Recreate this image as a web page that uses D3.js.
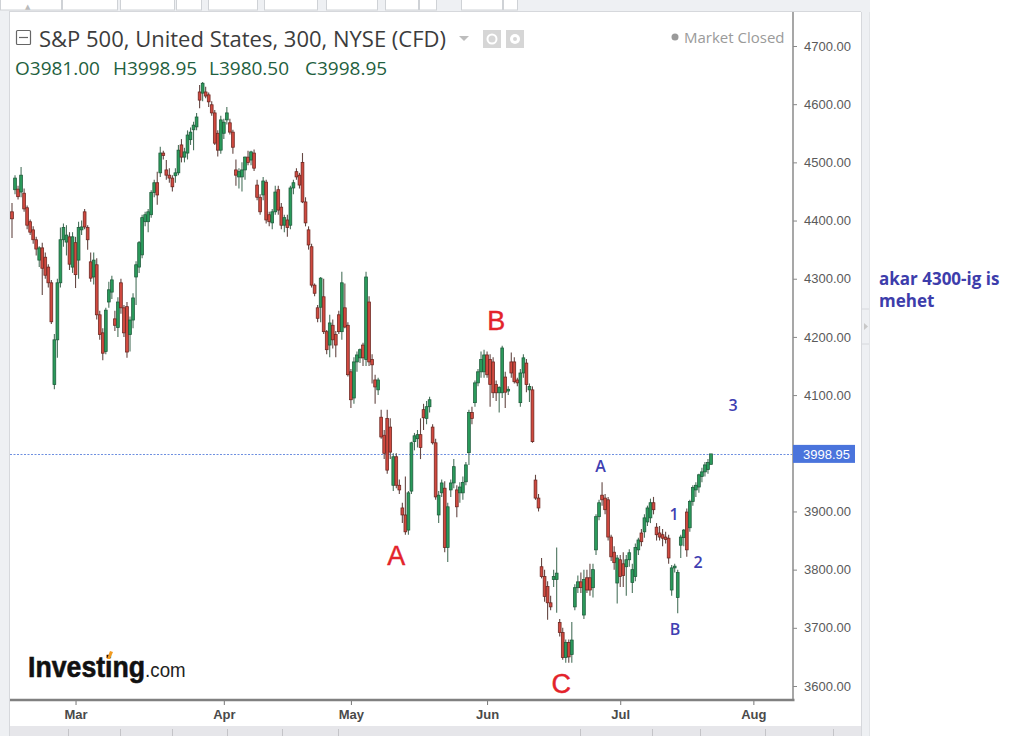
<!DOCTYPE html>
<html>
<head>
<meta charset="utf-8">
<script src="https://cdn.jsdelivr.net/npm/d3@7"></script>
<style>
  body { margin: 0; background: #fff; }
  svg { display: block; }
</style>
</head>
<body>
<div id="chart"></div>
<script>
// S&P 500 CFD, 300-minute candles, Feb - Jul
const opens = [4415,4453,4454,4449,4447,4422,4398,4384,4367,4332,4353,4337,4320,4293,4118,4195,4293,4367,4363,4372,4320,4362,4332,4384,4415,4388,4329,4303,4324,4238,4207,4175,4260,4277,4231,4216,4293,4250,4252,4204,4229,4303,4320,4341,4398,4398,4410,4448,4465,4482,4516,4487,4478,4473,4477,4482,4530,4509,4516,4539,4556,4561,4621,4619,4621,4616,4599,4585,4550,4521,4550,4573,4568,4552,4487,4475,4475,4487,4509,4504,4516,4461,4440,4444,4466,4410,4396,4415,4453,4423,4392,4401,4392,4456,4484,4478,4500,4432,4384,4355,4289,4250,4251,4269,4209,4186,4220,4204,4238,4209,4250,4220,4140,4095,4157,4164,4186,4161,4260,4161,4126,4109,4062,4031,4060,4045,3945,3994,3945,3906,3894,3868,3935,4020,4025,4032,4075,4060,4080,4045,4018,3894,3932,3940,3838,3937,3949,3937,3932,3932,3951,4001,4070,4087,4121,4140,4140,4169,4161,4157,4118,4104,4104,4131,4107,4157,4157,4126,4087,4138,4155,4109,4109,3954,3923,3805,3788,3771,3743,3783,3783,3709,3692,3649,3675,3654,3736,3769,3779,3722,3786,3786,3769,3834,3891,3928,3923,3920,3856,3830,3777,3817,3810,3805,3817,3778,3788,3834,3863,3865,3882,3889,3915,3873,3863,3860,3856,3854,3765,3803,3752,3842,3855,3899,3872,3917,3937,3942,3960,3968,3972,3981];
const highs = [4430,4478,4460,4492,4455,4426,4402,4390,4372,4356,4362,4345,4325,4298,4205,4300,4388,4395,4392,4380,4380,4372,4398,4400,4420,4392,4345,4345,4335,4245,4215,4250,4295,4305,4245,4268,4300,4255,4260,4235,4275,4330,4365,4410,4415,4420,4452,4470,4484,4527,4520,4504,4490,4478,4490,4530,4540,4525,4555,4560,4570,4585,4633,4638,4630,4620,4605,4590,4555,4580,4575,4595,4575,4556,4505,4490,4500,4510,4520,4520,4522,4470,4445,4475,4470,4415,4420,4460,4460,4430,4410,4410,4460,4470,4490,4482,4516,4440,4390,4360,4292,4255,4303,4300,4212,4238,4230,4210,4245,4312,4292,4225,4145,4165,4175,4180,4190,4312,4270,4170,4135,4130,4075,4040,4075,4060,4000,4000,3955,3915,3960,3935,4020,4035,4040,4060,4085,4090,4097,4050,4025,3935,3955,3952,3915,3955,3990,3945,3950,3960,3985,4075,4080,4125,4145,4175,4178,4175,4170,4165,4125,4115,4185,4140,4115,4173,4165,4130,4145,4170,4162,4120,4115,3963,3930,3820,3800,3780,3755,3800,3838,3715,3700,3680,3680,3710,3775,3790,3795,3800,3800,3810,3810,3895,3920,3950,3930,3925,3860,3840,3825,3825,3830,3825,3835,3810,3845,3855,3870,3895,3910,3922,3925,3880,3875,3870,3865,3860,3808,3810,3800,3860,3870,3905,3920,3945,3950,3965,3975,3985,3990,3998.95];
const lows = [4370,4445,4436,4440,4415,4385,4375,4360,4340,4320,4272,4300,4285,4222,4110,4164,4285,4355,4340,4315,4310,4284,4300,4375,4385,4350,4295,4290,4230,4195,4160,4170,4250,4265,4210,4200,4240,4200,4164,4175,4215,4255,4310,4335,4390,4380,4405,4440,4427,4475,4505,4470,4465,4450,4465,4478,4500,4500,4505,4530,4521,4555,4593,4605,4610,4595,4580,4530,4510,4515,4540,4565,4548,4515,4460,4455,4450,4470,4495,4495,4485,4435,4410,4435,4395,4390,4385,4410,4410,4385,4380,4372,4385,4445,4470,4455,4430,4390,4350,4285,4270,4225,4225,4205,4170,4165,4180,4165,4205,4195,4215,4132,4078,4085,4140,4155,4150,4150,4150,4120,4085,4100,4025,3990,3965,3990,3935,3940,3930,3880,3860,3860,3930,4005,4010,3990,4040,4050,4070,4015,3920,3880,3925,3830,3813,3925,3940,3890,3915,3920,3945,3980,4050,4080,4115,4130,4130,4130,4080,4095,4090,4070,4095,4078,4100,4130,4120,4115,4080,4130,4105,4088,4018,3920,3900,3785,3745,3714,3730,3770,3726,3685,3645,3640,3640,3640,3730,3760,3760,3715,3760,3755,3752,3825,3885,3910,3895,3850,3815,3800,3742,3770,3770,3755,3805,3760,3780,3825,3840,3855,3875,3880,3895,3850,3850,3840,3845,3810,3755,3795,3725,3820,3840,3822,3865,3910,3925,3932,3950,3960,3965,3980.5];
const closes = [4403,4473,4441,4478,4420,4392,4380,4367,4351,4353,4318,4306,4293,4226,4195,4293,4367,4388,4375,4325,4372,4307,4388,4389,4389,4367,4301,4332,4238,4204,4172,4246,4281,4298,4220,4260,4250,4207,4174,4229,4267,4324,4362,4405,4410,4415,4448,4465,4444,4516,4512,4478,4473,4458,4482,4521,4509,4518,4547,4552,4564,4578,4607,4636,4614,4604,4585,4533,4521,4573,4569,4585,4552,4526,4478,4484,4487,4509,4500,4518,4490,4440,4415,4468,4401,4398,4415,4449,4418,4392,4405,4388,4456,4465,4475,4461,4432,4396,4358,4289,4275,4232,4301,4209,4178,4224,4195,4186,4209,4293,4217,4135,4092,4157,4169,4178,4164,4303,4157,4152,4114,4126,4028,4000,3971,4002,3994,3945,3937,3894,3865,3932,4018,4030,4032,4010,4061,4080,4092,4018,3925,3928,3949,3838,3908,3949,3977,3908,3942,3950,3980,4070,4060,4121,4140,4161,4169,4135,4118,4104,4104,4113,4181,4105,4110,4138,4123,4121,4138,4164,4118,4115,4020,3923,3906,3788,3754,3743,3736,3788,3794,3692,3649,3675,3650,3679,3769,3779,3769,3783,3765,3765,3800,3891,3915,3920,3903,3856,3822,3812,3820,3788,3790,3817,3829,3800,3838,3851,3848,3889,3906,3915,3903,3860,3856,3854,3852,3820,3803,3806,3795,3856,3868,3834,3917,3941,3945,3963,3968,3980,3984,3998.95];

const priceTicks = [3600, 3700, 3800, 3900, 4000, 4100, 4200, 4300, 4400, 4500, 4600, 4700];
const monthLabels = ["Mar", "Apr", "May", "Jun", "Jul", "Aug"];
const monthIndex = [21, 70, 112, 157, 201, 245];
const lastPrice = 3998.95;

// wave annotations: label, candle index, price level
const bigWaveLabels = ["A", "B", "C"];
const bigWaveIndex = [127, 160, 181.5];
const bigWavePrice = [3824, 4229, 3604];
const smallWaveLabels = ["A", "1", "2", "B", "3"];
const smallWaveIndex = [194.5, 218.8, 226.7, 219.1, 238.3];
const smallWavePrice = [3977, 3896, 3812, 3697, 4083];
const noteLines = ["akar 4300-ig is", "mehet"];

const width = 1023;
const height = 752;

const svg = d3.select('#chart')
  .append('svg')
  .attr('width', width)
  .attr('height', height)
  .attr('viewBox', `0 0 ${width} ${height}`);

// ---- frame / panels ----
svg.append('rect').attr('x', 0).attr('y', 0).attr('width', width).attr('height', height).attr('fill', '#fff');
svg.append('rect').attr('x', 0).attr('y', 0).attr('width', 870).attr('height', 12).attr('fill', '#eef0f3');
const topBoxes = [[0, 62], [62, 118], [120, 175], [176, 202], [208, 258], [264, 318], [326, 378], [385, 419], [419, 437], [461, 503], [503, 518]];
svg.append('g').selectAll('rect').data(topBoxes).join('rect')
  .attr('x', d => d[0] + 0.5).attr('y', -2).attr('width', d => d[1] - d[0] - 1).attr('height', 12)
  .attr('fill', '#fff').attr('stroke', '#cfd2d6');
svg.append('text').attr('x', 25).attr('y', 9).attr('font-size', 7).attr('fill', '#bbb')
  .attr('font-family', 'DejaVu Sans').text('▲');
svg.append('line').attr('x1', 9).attr('x2', 861).attr('y1', 11.5).attr('y2', 11.5).attr('stroke', '#d6d8dc');

svg.append('rect').attr('x', 0).attr('y', 12).attr('width', 9).attr('height', 724).attr('fill', '#eef0f3');
svg.append('line').attr('x1', 9.5).attr('x2', 9.5).attr('y1', 12).attr('y2', 736).attr('stroke', '#d6d8dc');
svg.append('rect').attr('x', 861).attr('y', 12).attr('width', 9).attr('height', 724).attr('fill', '#eef0f3');
svg.append('line').attr('x1', 861.5).attr('x2', 861.5).attr('y1', 12).attr('y2', 736).attr('stroke', '#d6d8dc');
svg.append('line').attr('x1', 869.5).attr('x2', 869.5).attr('y1', 12).attr('y2', 736).attr('stroke', '#e2e4e7');
svg.append('line').attr('x1', 862).attr('x2', 869).attr('y1', 309).attr('y2', 309).attr('stroke', '#d6d8dc');
svg.append('line').attr('x1', 862).attr('x2', 869).attr('y1', 344).attr('y2', 344).attr('stroke', '#d6d8dc');
svg.append('path').attr('d', 'M864,323 L868,326.5 L864,330 Z').attr('fill', '#c8c8c8');

// bottom toolbar strip
svg.append('rect').attr('x', 10).attr('y', 726).attr('width', 851).attr('height', 10).attr('fill', '#e6e6ea');
const stripSeps = [68, 120, 172, 227, 282, 338, 580, 652, 700, 765, 833];
svg.append('g').selectAll('line').data(stripSeps).join('line')
  .attr('x1', d => d + 0.5).attr('x2', d => d + 0.5).attr('y1', 729).attr('y2', 736)
  .attr('stroke', '#c4c4c8');

// ---- scales ----
const x = d3.scaleLinear().domain([0, closes.length - 1]).range([12, 711]);
const y = d3.scaleLinear().domain([3600, 4700]).range([686, 46]);
const step = x(1) - x(0);
const bodyW = step * 0.92;

// last price line
svg.append('line')
  .attr('x1', 10).attr('x2', 793)
  .attr('y1', Math.round(y(lastPrice)) + 0.5).attr('y2', Math.round(y(lastPrice)) + 0.5)
  .attr('stroke', '#6d8fe0').attr('stroke-width', 1).attr('stroke-dasharray', '2,1.5');

// ---- candles ----
const idx = d3.range(closes.length);
const candles = svg.append('g').attr('class', 'candles');
candles.selectAll('line').data(idx).join('line')
  .attr('x1', i => x(i)).attr('x2', i => x(i))
  .attr('y1', i => y(highs[i])).attr('y2', i => y(lows[i]))
  .attr('stroke', i => closes[i] >= opens[i] ? '#4b735d' : '#654844')
  .attr('stroke-width', 1.1);
candles.selectAll('rect').data(idx).join('rect')
  .attr('x', i => x(i) - bodyW / 2)
  .attr('width', bodyW)
  .attr('y', i => y(Math.max(opens[i], closes[i])))
  .attr('height', i => Math.max(1, Math.abs(y(opens[i]) - y(closes[i]))))
  .attr('fill', i => closes[i] >= opens[i] ? '#2a9a5b' : '#d0493f')
  .attr('stroke', i => closes[i] >= opens[i] ? '#1d5a3a' : '#6a251f')
  .attr('stroke-width', 0.75);

// ---- axes ----
const yAxis = d3.axisRight(y)
  .tickValues(priceTicks)
  .tickFormat(d3.format('.2f'))
  .tickSize(4)
  .tickPadding(7);
const gy = svg.append('g').attr('transform', 'translate(793,0)').call(yAxis);
gy.select('.domain').remove();
gy.selectAll('.tick line').attr('stroke', '#888');
gy.selectAll('.tick text')
  .attr('font-family', 'Liberation Sans, Arial, sans-serif')
  .attr('font-size', 13).attr('fill', '#5a5a5a');

svg.append('line').attr('x1', 793).attr('x2', 793).attr('y1', 12).attr('y2', 701)
  .attr('stroke', '#8a8a8a').attr('stroke-width', 1.5);

const xAxis = d3.axisBottom(x)
  .tickValues(monthIndex)
  .tickFormat((d, i) => monthLabels[i])
  .tickSize(5)
  .tickPadding(5);
const gx = svg.append('g').attr('transform', 'translate(0,700)').call(xAxis);
gx.select('.domain').remove();
gx.selectAll('.tick line').attr('stroke', '#777');
gx.selectAll('.tick text')
  .attr('font-family', 'Liberation Sans, Arial, sans-serif')
  .attr('font-size', 13).attr('font-weight', 'bold').attr('fill', '#4a4a4a');

svg.append('line').attr('x1', 10).attr('x2', 794.5).attr('y1', 700).attr('y2', 700)
  .attr('stroke', '#808080').attr('stroke-width', 2.5);

// price flag
const py = y(lastPrice);
svg.append('rect').attr('x', 793).attr('y', py - 9).attr('width', 62).attr('height', 18).attr('fill', '#4a74dc');
svg.append('text').attr('x', 803).attr('y', py).attr('dy', '0.36em')
  .attr('font-family', 'Liberation Sans, Arial, sans-serif').attr('font-size', 13)
  .attr('fill', '#fff').text(d3.format('.2f')(lastPrice));

// ---- header ----
const head = svg.append('g').attr('font-family', 'Open Sans, sans-serif');
head.append('rect').attr('x', 16.5).attr('y', 30.5).attr('width', 14).attr('height', 14)
  .attr('fill', 'none').attr('stroke', '#666').attr('stroke-width', 1.2).attr('rx', 1);
head.append('line').attr('x1', 19).attr('x2', 28).attr('y1', 37.5).attr('y2', 37.5).attr('stroke', '#666').attr('stroke-width', 1.2);
head.append('text').attr('x', 39).attr('y', 47).attr('font-size', 22).attr('fill', '#3c3c3c')
  .text('S&P 500, United States, 300, NYSE (CFD)');
head.append('path').attr('d', 'M459,36 L469,36 L464,41 Z').attr('fill', '#bdbdbd');
head.append('rect').attr('x', 483).attr('y', 30).attr('width', 18).attr('height', 18).attr('fill', '#d6d6d6');
head.append('circle').attr('cx', 492).attr('cy', 39).attr('r', 4.5).attr('fill', 'none').attr('stroke', '#fff').attr('stroke-width', 2);
head.append('rect').attr('x', 506).attr('y', 30).attr('width', 18).attr('height', 18).attr('fill', '#d6d6d6');
head.append('circle').attr('cx', 515).attr('cy', 39).attr('r', 5).attr('fill', '#fff');
head.append('circle').attr('cx', 515).attr('cy', 39).attr('r', 2).attr('fill', '#d6d6d6');

const ohlc = [['O', opens[opens.length - 1], 15], ['H', highs[highs.length - 1], 113], ['L', lows[lows.length - 1], 209], ['C', closes[closes.length - 1], 305]];
head.selectAll('text.ohlc').data(ohlc).join('text')
  .attr('class', 'ohlc')
  .attr('x', d => d[2]).attr('y', 75).attr('font-size', 19).attr('fill', '#1f5f40')
  .text(d => d[0] + d3.format('.2f')(d[1]));

head.append('circle').attr('cx', 675).attr('cy', 37).attr('r', 3.5).attr('fill', '#9a9a9a');
head.append('text').attr('x', 684).attr('y', 42.5).attr('font-size', 15).attr('fill', '#9a9a9a').text('Market Closed');

// ---- logo (one text, squeezed horizontally) ----
const logoScale = 0.89;
const logo = svg.append('text')
  .attr('transform', `translate(28,677) scale(${logoScale},1)`)
  .attr('font-family', 'Liberation Sans, Arial, sans-serif');
logo.append('tspan').attr('font-weight', 'bold').attr('font-size', 30)
  .attr('fill', '#111').attr('stroke', '#111').attr('stroke-width', 0.6).text('Investing');
logo.append('tspan').attr('font-size', 21).attr('fill', '#222').text('.com');
svg.append('path').attr('d', 'M107,659 L110,651 L113,652 L110,659 Z').attr('fill', '#f29b21');

// ---- wave annotations ----
svg.append('g').selectAll('text').data(bigWaveLabels).join('text')
  .attr('x', (d, i) => x(bigWaveIndex[i]))
  .attr('y', (d, i) => y(bigWavePrice[i]))
  .attr('dy', '0.36em').attr('text-anchor', 'middle')
  .attr('font-family', 'Liberation Sans, Arial, sans-serif')
  .attr('font-size', 27).attr('fill', '#e3232b').attr('stroke', '#e3232b').attr('stroke-width', 0.4)
  .text(d => d);

svg.append('g').selectAll('text').data(smallWaveLabels).join('text')
  .attr('x', (d, i) => x(smallWaveIndex[i]))
  .attr('y', (d, i) => y(smallWavePrice[i]))
  .attr('dy', '0.36em').attr('text-anchor', 'middle')
  .attr('font-family', 'Open Sans, sans-serif').attr('font-weight', 600)
  .attr('font-size', 16).attr('fill', '#3f3fb2')
  .text(d => d);

// side note
svg.append('g').selectAll('text').data(noteLines).join('text')
  .attr('x', 879)
  .attr('y', (d, i) => y(4300) + i * 22)
  .attr('dy', '0.36em')
  .attr('font-family', 'Open Sans, sans-serif').attr('font-weight', 'bold')
  .attr('font-size', 17).attr('fill', '#3d3dab')
  .text(d => d);
</script>
</body>
</html>
